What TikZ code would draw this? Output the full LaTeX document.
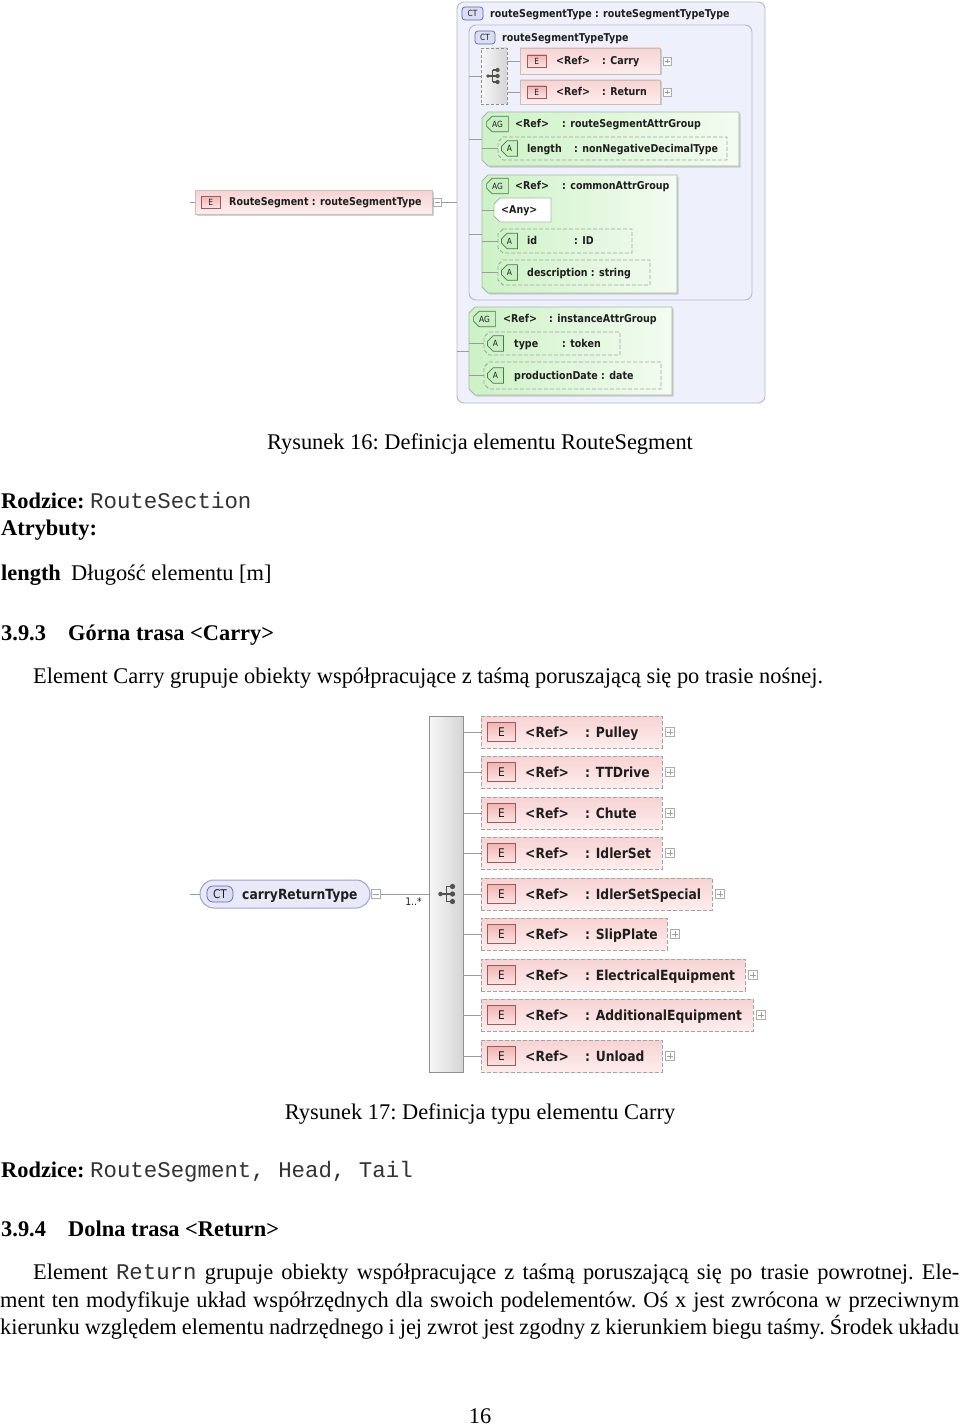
\documentclass[tikz,border=0pt]{standalone}
\usepackage{fontspec}
\setmainfont{Liberation Serif}
\setmonofont{Liberation Mono}
\newfontfamily\dgf{DejaVu Sans}[FakeStretch=0.88]
\usetikzlibrary{shapes.misc,shadows}
\definecolor{ctfill}{HTML}{EEF0FB}
\definecolor{ctdraw}{HTML}{B4B8CF}
\definecolor{ctbfill}{HTML}{DADDF5}
\definecolor{ctbdraw}{HTML}{62679A}
\definecolor{eltop}{HTML}{F8D3D3}
\definecolor{elbot}{HTML}{FDEDED}
\definecolor{eldraw}{HTML}{C9BEBE}
\definecolor{ebtop}{HTML}{F2B4B4}
\definecolor{ebbot}{HTML}{FCE4E4}
\definecolor{ebdraw}{HTML}{9C5A5A}
\definecolor{agleft}{HTML}{CDF2C6}
\definecolor{agright}{HTML}{F3FCF1}
\definecolor{agdraw}{HTML}{A9B6A9}
\definecolor{abfill}{HTML}{C9F0C3}
\definecolor{abdraw}{HTML}{4D7A4D}
\definecolor{dashc}{HTML}{A3A3A3}
\definecolor{linec}{HTML}{9C9C9C}
\definecolor{seqleft}{HTML}{F7F7F7}
\definecolor{seqright}{HTML}{D5D5D5}
\definecolor{seqdraw}{HTML}{8F8F8F}
\definecolor{txtc}{HTML}{1E1E1E}
\definecolor{iconc}{HTML}{505050}
\definecolor{ctpfill}{HTML}{E8EAFA}
\definecolor{ctpdraw}{HTML}{9EA3C9}
\definecolor{monoc}{HTML}{333333}
\newcommand\dgA{\dgf\bfseries\fontsize{10.8}{12}\selectfont}
\newcommand\dgB{\dgf\bfseries\fontsize{14}{16}\selectfont}
\newcommand\bdA{\dgf\fontsize{8.5}{9}\selectfont}
\newcommand\bdB{\dgf\fontsize{12}{13}\selectfont}
\newcommand\bodyf{\fontsize{22.4}{27}\selectfont\frenchspacing}
\newcommand\mymono[1]{\textcolor{monoc}{\texttt{#1}}}
\newcommand\chpathX[2]{([xshift=#2]#1.north west) -- (#1.north east) -- (#1.south east) -- ([xshift=#2]#1.south west) -- ([yshift=#2]#1.south west) -- ([yshift=-#2]#1.north west) -- cycle}
\tikzset{
 conn/.style={draw=linec, line width=0.8pt},
 hold/.style={inner sep=0pt, outer sep=0pt},
 ctbox/.style={hold, draw=ctdraw, fill=ctfill, rounded corners=7pt, line width=0.9pt},
 ctbadge/.style={draw=ctbdraw, fill=ctbfill, rounded corners=3pt, inner sep=0pt, line width=0.7pt, text=txtc},
 elsolid/.style={hold, draw=eldraw, top color=eltop, bottom color=elbot, line width=0.7pt, drop shadow={shadow xshift=1.5pt, shadow yshift=-1.5pt, fill=black!35, opacity=0.5}},
 eldash/.style={hold, draw=dashc, dash pattern=on 4pt off 2pt, top color=eltop, bottom color=elbot, line width=0.8pt},
 ebadge/.style={draw=ebdraw, top color=ebtop, bottom color=ebbot, inner sep=0pt, line width=0.7pt, text=txtc},
 agfill/.style={draw=agdraw, left color=agleft, right color=agright, line width=0.8pt, drop shadow={shadow xshift=1.5pt, shadow yshift=-1.5pt, fill=black!35, opacity=0.5}},
 adash/.style={draw=dashc, dash pattern=on 4pt off 2pt, line width=0.8pt},
 anyfill/.style={draw=agdraw, fill=white, line width=0.8pt},
 abadge/.style={chamfered rectangle, chamfered rectangle corners={north west,south west}, chamfered rectangle xsep=2.5pt, draw=abdraw, fill=abfill, inner xsep=3pt, inner ysep=1.5pt, line width=0.7pt, text=txtc},
 seqbox/.style={hold, draw=seqdraw, left color=seqleft, right color=seqright, line width=0.8pt},
 dA/.style={anchor=west, inner sep=0pt, font=\dgA, text=txtc, text height=7.9pt, text depth=0pt},
 dB/.style={anchor=west, inner sep=0pt, font=\dgB, text=txtc, text height=10.2pt, text depth=0pt},
 plusb/.style={draw=gray!65, fill=white, inner sep=0pt, line width=0.6pt, anchor=west,
   path picture={\draw[gray!75, line width=0.6pt] ([xshift=1.8pt]path picture bounding box.west) -- ([xshift=-1.8pt]path picture bounding box.east) ([yshift=-1.8pt]path picture bounding box.north) -- ([yshift=1.8pt]path picture bounding box.south);}},
 minusb/.style={draw=gray!65, fill=white, inner sep=0pt, line width=0.6pt, anchor=west,
   path picture={\draw[gray!75, line width=0.6pt] ([xshift=1.8pt]path picture bounding box.west) -- ([xshift=-1.8pt]path picture bounding box.east);}},
 txt/.style={inner sep=0pt, font=\bodyf, text=black},
 seqicon/.pic={
   \draw[iconc, line width=1.1pt] (-6,0) -- (-1.5,0) (-1.5,-6) -- (-1.5,6) (-1.5,-6) -- (3,-6) (-1.5,6) -- (3,6) (-1.5,0) -- (3,0);
   \fill[iconc] (-6,0) circle (1.8) (3.6,-6) circle (2.1) (3.6,0) circle (2.1) (3.6,6) circle (2.1);
 }
}
\begin{document}
\begin{tikzpicture}[x=1pt,y=-1pt]
\useasboundingbox (0,0) rectangle (960,1426);
\fill[white] (0,0) rectangle (960,1426);

% ---------------- Diagram 1 ----------------
\node[ctbox, minimum width=308pt, minimum height=401pt, anchor=north west] (outer) at (457,2) {};
\node[ctbadge, minimum width=21pt, minimum height=13pt, font=\bdA] (outerB) at (472.5,13.5) {CT};
\node[dA] (outerT) at (490,13.5) {routeSegmentType : routeSegmentTypeType};
\node[ctbox, minimum width=283pt, minimum height=275pt, anchor=north west] (inner) at (469,25) {};
\node[ctbadge, minimum width=20pt, minimum height=13pt, font=\bdA] (innerB) at (485,37.5) {CT};
\node[dA] (innerT) at (502,37.5) {routeSegmentTypeType};
\node[seqbox, dash pattern=on 3pt off 2pt, minimum width=26pt, minimum height=56pt, anchor=north west] (seq1) at (481,48) {};
\pic at (seq1.center) {seqicon};
\draw[conn] (inner.west |- seq1.center) -- (seq1.west);

\node[elsolid, minimum width=140pt, minimum height=26pt, anchor=north west] (carry) at (520,48) {};
\node[ebadge, minimum width=19pt, minimum height=12pt, font=\bdA, anchor=west] (carryB) at (527,61) {E};
\node[dA] (carryR) at (556,61) {<Ref>};
\node[dA] (carryT) at (602,61) {: Carry};
\node[plusb, minimum size=8pt] (carryP) at (663,61) {};
\draw[conn] (seq1.east |- carry.center) -- (carry.west);

\node[elsolid, minimum width=140pt, minimum height=24pt, anchor=north west] (ret) at (520,80) {};
\node[ebadge, minimum width=19pt, minimum height=12pt, font=\bdA, anchor=west] (retB) at (527,92) {E};
\node[dA] (retR) at (556,92) {<Ref>};
\node[dA] (retT) at (602,92) {: Return};
\node[plusb, minimum size=8pt] (retP) at (663,92) {};
\draw[conn] (seq1.east |- ret.center) -- (ret.west);

% AG routeSegmentAttrGroup
\node[hold, minimum width=257pt, minimum height=54pt, anchor=north west] (ag1) at (482,112) {};
\path[agfill] \chpathX{ag1}{6pt};
\node[abadge, font=\bdA] (ag1B) at (497.5,124) {AG};
\node[dA] (ag1R) at (515,124) {<Ref>};
\node[dA] (ag1T) at (562,124) {: routeSegmentAttrGroup};
\draw[conn] (inner.west |- ag1.center) -- (ag1.west);
\node[hold, minimum width=229pt, minimum height=23pt, anchor=north west] (alen) at (498,137) {};
\path[adash] \chpathX{alen}{5pt};
\node[abadge, font=\bdA] (alenB) at (509.5,148.5) {A};
\node[dA] (alenN) at (527,148.5) {length};
\node[dA] (alenT) at (574,148.5) {: nonNegativeDecimalType};
\draw[conn] (ag1.west |- alen.center) -- (alen.west);

% AG commonAttrGroup
\node[hold, minimum width=195pt, minimum height=118pt, anchor=north west] (ag2) at (482,175) {};
\path[agfill] \chpathX{ag2}{6pt};
\node[abadge, font=\bdA] (ag2B) at (497.5,186) {AG};
\node[dA] (ag2R) at (515,186) {<Ref>};
\node[dA] (ag2T) at (562,186) {: commonAttrGroup};
\draw[conn] (inner.west |- ag2.center) -- (ag2.west);
\node[hold, minimum width=57pt, minimum height=24pt, anchor=north west] (any) at (494,198) {};
\path[anyfill] \chpathX{any}{6pt};
\node[dA] (anyT) at (501,210) {<Any>};
\draw[conn] (ag2.west |- any.center) -- (any.west);
\node[hold, minimum width=134pt, minimum height=24pt, anchor=north west] (aid) at (498,229) {};
\path[adash] \chpathX{aid}{5pt};
\node[abadge, font=\bdA] (aidB) at (509.5,241) {A};
\node[dA] (aidN) at (527,241) {id};
\node[dA] (aidT) at (574,241) {: ID};
\draw[conn] (ag2.west |- aid.center) -- (aid.west);
\node[hold, minimum width=152pt, minimum height=25pt, anchor=north west] (adesc) at (498,260) {};
\path[adash] \chpathX{adesc}{5pt};
\node[abadge, font=\bdA] (adescB) at (509.5,272.5) {A};
\node[dA] (adescT) at (527,272.5) {description : string};
\draw[conn] (ag2.west |- adesc.center) -- (adesc.west);

% AG instanceAttrGroup
\node[hold, minimum width=203pt, minimum height=88pt, anchor=north west] (ag3) at (469,307) {};
\path[agfill] \chpathX{ag3}{6pt};
\node[abadge, font=\bdA] (ag3B) at (484.5,319) {AG};
\node[dA] (ag3R) at (503,319) {<Ref>};
\node[dA] (ag3T) at (549,319) {: instanceAttrGroup};
\draw[conn] (outer.west |- ag3.center) -- (ag3.west);
\node[hold, minimum width=136pt, minimum height=23pt, anchor=north west] (atype) at (484,332) {};
\path[adash] \chpathX{atype}{5pt};
\node[abadge, font=\bdA] (atypeB) at (495.5,343.5) {A};
\node[dA] (atypeN) at (514,343.5) {type};
\node[dA] (atypeT) at (562,343.5) {: token};
\draw[conn] (ag3.west |- atype.center) -- (atype.west);
\node[hold, minimum width=177pt, minimum height=27pt, anchor=north west] (aprod) at (484,362) {};
\path[adash] \chpathX{aprod}{5pt};
\node[abadge, font=\bdA] (aprodB) at (495.5,375.5) {A};
\node[dA] (aprodT) at (514,375.5) {productionDate : date};
\draw[conn] (ag3.west |- aprod.center) -- (aprod.west);

% RouteSegment element
\node[elsolid, minimum width=237pt, minimum height=24pt, anchor=north west] (rs) at (195,190) {};
\node[ebadge, minimum width=19pt, minimum height=12pt, font=\bdA, anchor=west] (rsB) at (201,202) {E};
\node[dA] (rsT) at (229,202) {RouteSegment : routeSegmentType};
\node[minusb, minimum size=8pt] (rsM) at (433,202) {};
\draw[conn] (rsM.east) -- (outer.west |- rsM.center);
\coordinate (rsIn) at (190,202);
\draw[conn] (rsIn) -- (rs.west);

% ---------------- Diagram 2 ----------------
\node[hold, draw=ctpdraw, fill=ctpfill, rounded corners=14pt, line width=1pt, minimum width=170pt, minimum height=28pt, anchor=north west] (crt) at (200,880) {};
\node[ctbadge, rounded corners=6pt, minimum width=26pt, minimum height=16pt, font=\bdB] (crtB) at (220,894) {CT};
\node[dB] (crtT) at (242,894) {carryReturnType};
\node[minusb, minimum size=9pt] (crtM) at (371,894) {};
\coordinate (crtIn) at (190,894);
\draw[conn] (crtIn) -- (crt.west);
\node[seqbox, minimum width=34pt, minimum height=356pt, anchor=north west] (seq2) at (429,716) {};
\pic[scale=1.25] at ([xshift=2pt]seq2.center) {seqicon};
\draw[conn] (crtM.east) -- (seq2.west |- crtM.center);
\node[inner sep=0pt, font=\dgf\fontsize{10.5}{11}\selectfont, text=txtc] (mult) at (413.5,902) {1..*};

\foreach \nm/\cy/\rx [count=\i] in {Pulley/732/662, TTDrive/772/662, Chute/813/662, IdlerSet/853/662, IdlerSetSpecial/894/712, SlipPlate/934/667, ElectricalEquipment/975/745, AdditionalEquipment/1015/753, Unload/1056/662}{
  \pgfmathsetmacro\ewid{\rx-481}
  \node[eldash, minimum width=\ewid pt, minimum height=32pt, anchor=west] (el\i) at (481,\cy) {};
  \node[ebadge, minimum width=28pt, minimum height=19pt, font=\bdB, anchor=west] (el\i-b) at (487,\cy) {E};
  \node[dB] (el\i-r) at (525,\cy) {<Ref>};
  \node[dB] (el\i-t) at (585,\cy) {: \nm};
  \node[plusb, minimum size=9pt] (el\i-p) at (\rx+3,\cy) {};
  \draw[conn] (seq2.east |- el\i.center) -- (el\i.west);
}

% ---------------- Page text ----------------
\node[txt, anchor=base] (cap16) at (480,449) {Rysunek 16: Definicja elementu RouteSegment};
\node[txt, anchor=base west] (rod1) at (1,508) {\textbf{Rodzice:} \mymono{RouteSection}};
\node[txt, anchor=base west] (atr) at (1,535) {\textbf{Atrybuty:}};
\node[txt, anchor=base west] (lenk) at (1,580) {\textbf{length}};
\node[txt, anchor=base west] (lenv) at (71,580) {Długość elementu [m]};
\node[txt, anchor=base west] (h393n) at (1,640) {\textbf{3.9.3}};
\node[txt, anchor=base west] (h393t) at (68,640) {\textbf{Górna trasa <Carry>}};
\node[txt, anchor=base west] (p1) at (33,683) {Element Carry grupuje obiekty współpracujące z taśmą poruszającą się po trasie nośnej.};
\node[txt, anchor=base] (cap17) at (480,1119) {Rysunek 17: Definicja typu elementu Carry};
\node[txt, anchor=base west] (rod2) at (1,1177) {\textbf{Rodzice:} \mymono{RouteSegment, Head, Tail}};
\node[txt, anchor=base west] (h394n) at (1,1236) {\textbf{3.9.4}};
\node[txt, anchor=base west] (h394t) at (68,1236) {\textbf{Dolna trasa <Return>}};
\node[txt, anchor=base west] (l1) at (33,1279) {\makebox[926pt][s]{Element \mymono{Return} grupuje obiekty współpracujące z taśmą poruszającą się po trasie powrotnej. Ele-}};
\node[txt, anchor=base west] (l2) at (0,1307) {\makebox[959pt][s]{ment ten modyfikuje układ współrzędnych dla swoich podelementów. Oś x jest zwrócona w przeciwnym}};
\node[txt, anchor=base west] (l3) at (0,1334) {\makebox[959pt][s]{kierunku względem elementu nadrzędnego i jej zwrot jest zgodny z kierunkiem biegu taśmy. Środek układu}};
\node[txt, anchor=base] (pnum) at (480,1423) {16};
\end{tikzpicture}
\end{document}
